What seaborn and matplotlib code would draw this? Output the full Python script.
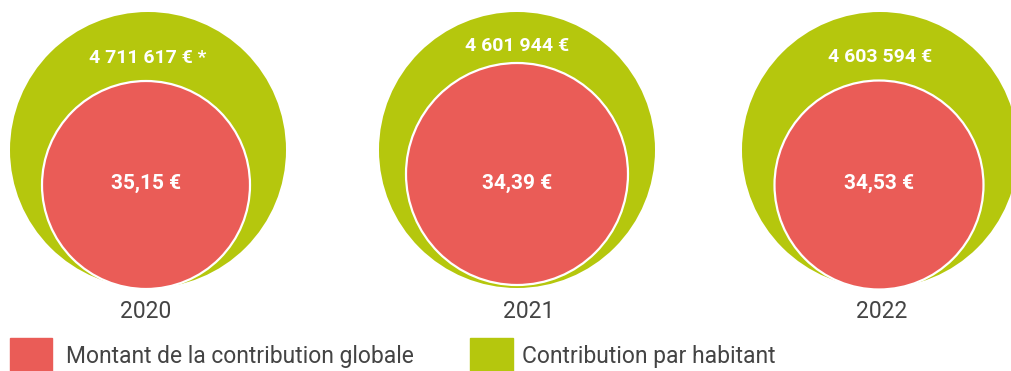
import matplotlib
matplotlib.use("Agg")
import matplotlib.pyplot as plt
import seaborn as sns
import pandas as pd

# Data
years = ["2020", "2021", "2022"]
global_amounts = ["4 711 617 € *", "4 601 944 €", "4 603 594 €"]
per_capita = ["35,15 €", "34,39 €", "34,53 €"]
legend_labels = ["Montant de la contribution globale", "Contribution par habitant"]

# Layout (pixel coordinates, y down)
W, H, DPI = 1011, 371, 100
outer_x = [148, 517, 880]
outer_y = [150, 150, 150]
outer_d = [276, 276, 276]
inner_x = [146, 517, 879]
inner_y = [185, 174, 185]
inner_d = [208, 222, 209]
outer_label_y = [58, 46, 57]
inner_label_y = [183, 183, 183]
year_x = [146, 529, 882]
year_y = 312

GREEN = "#B5C70D"
RED = "#EA5C57"
TEXT = "#444444"

sns.set_theme(style="white")
plt.rcParams["font.family"] = ["Roboto", "DejaVu Sans"]

fig = plt.figure(figsize=(W / DPI, H / DPI), dpi=DPI)
ax = fig.add_axes([0, 0, 1, 1])
ax.set_xlim(0, W)
ax.set_ylim(H, 0)
ax.set_axis_off()

px2pt = 72 / DPI

outer = pd.DataFrame({"x": outer_x, "y": outer_y,
                      "s": [(d * px2pt) ** 2 for d in outer_d]})
inner = pd.DataFrame({"x": inner_x, "y": inner_y,
                      "s": [(d * px2pt) ** 2 for d in inner_d]})

ax.scatter(outer["x"], outer["y"], s=outer["s"], color=GREEN, linewidths=0, zorder=1)
sns.scatterplot(data=inner, x="x", y="y", size="s", sizes=None, legend=False,
                ax=ax, color=RED, edgecolor="white", linewidth=1.6, zorder=2)
# seaborn normalises size; re-apply exact areas
for coll in ax.collections[1:]:
    coll.set_sizes(inner["s"].values)

for i in range(len(years)):
    ax.text(outer_x[i], outer_label_y[i], global_amounts[i], ha="center", va="center",
            color="white", fontsize=14, fontweight="bold", zorder=3)
    ax.text(inner_x[i], inner_label_y[i], per_capita[i], ha="center", va="center",
            color="white", fontsize=15, fontweight="bold", zorder=3)
    ax.text(year_x[i], year_y, years[i], ha="center", va="center",
            color=TEXT, fontsize=16.5)

# Legend
ax.add_patch(plt.Rectangle((10, 338), 42, 33, color=RED, clip_on=False))
ax.text(66, 356, legend_labels[0], ha="left", va="center", color=TEXT, fontsize=16.5)
ax.add_patch(plt.Rectangle((470, 338), 43, 33, color=GREEN, clip_on=False))
ax.text(522, 356, legend_labels[1], ha="left", va="center", color=TEXT, fontsize=16.5)

fig.savefig("out.png", dpi=DPI, facecolor="white")
